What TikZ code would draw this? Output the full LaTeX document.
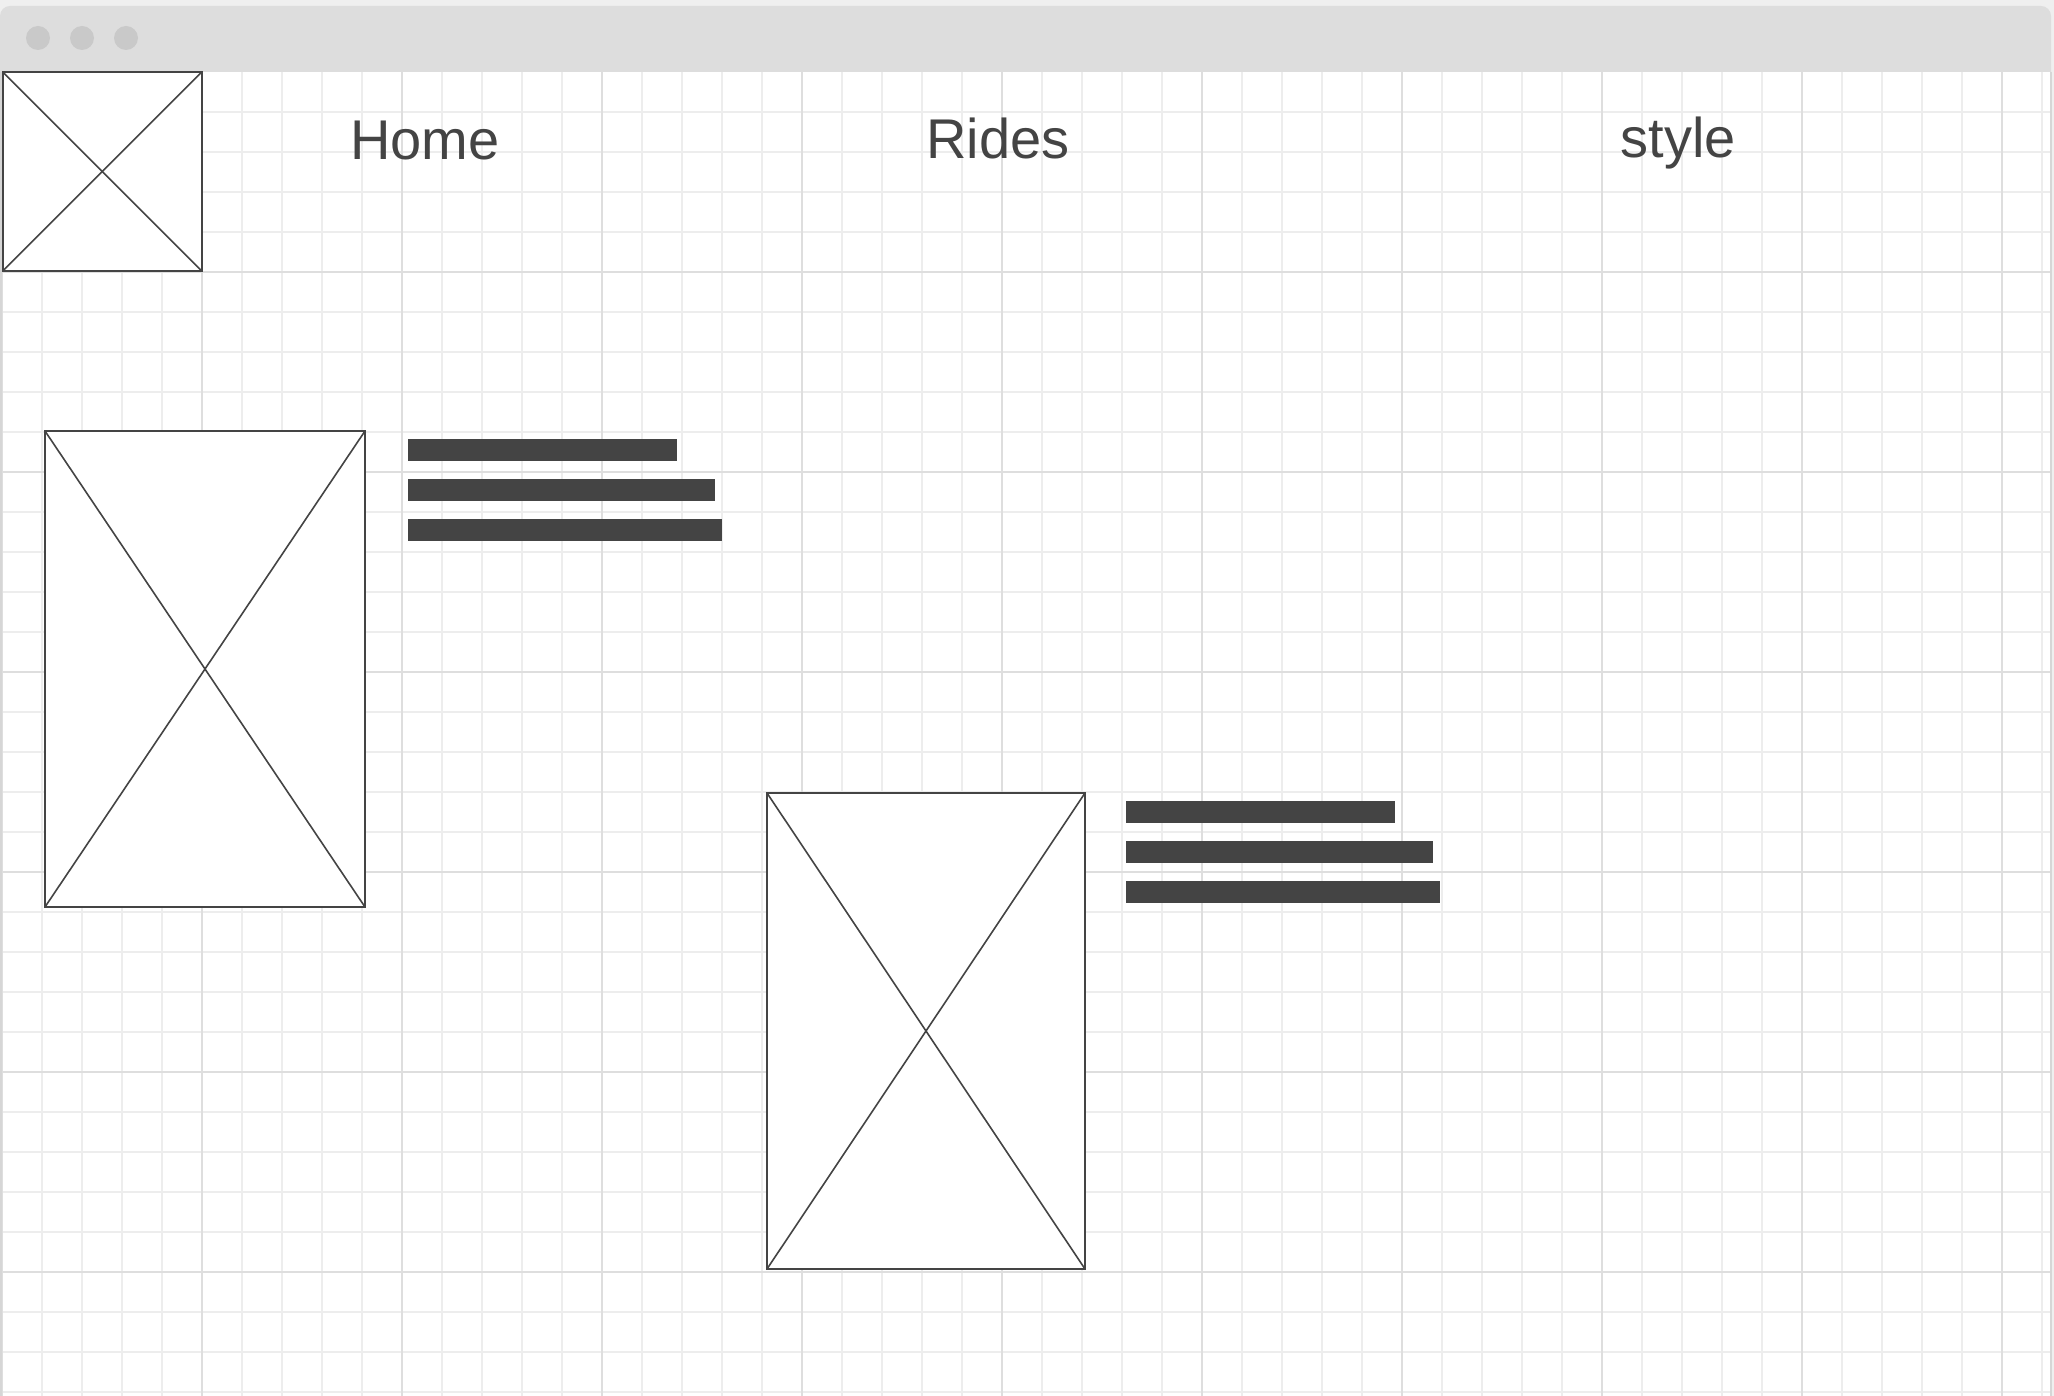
\documentclass[tikz,border=0pt]{standalone}
\usepackage{fontspec}
\setmainfont{Liberation Sans}
\definecolor{outerbg}{HTML}{EFEFEF}
\definecolor{barbg}{HTML}{DDDDDD}
\definecolor{dotc}{HTML}{C9C9C9}
\definecolor{gridminor}{HTML}{EDEDED}
\definecolor{gridmajor}{HTML}{DEDEDE}
\definecolor{edgec}{HTML}{D6D6D6}
\definecolor{ink}{HTML}{444444}
\tikzset{
  minorline/.style={draw=gridminor, line width=1.3pt},
  majorline/.style={draw=gridmajor, line width=1.4pt},
  imgbox/.style={draw=ink, fill=white, line width=2pt, inner sep=0pt, outer sep=0pt, rectangle},
  crossline/.style={draw=ink, line width=1.6pt},
  textbar/.style={fill=ink, inner sep=0pt, outer sep=0pt, minimum height=22pt, anchor=north west, rectangle},
  navtext/.style={text=ink, font=\fontsize{56}{64}\selectfont, anchor=base, inner sep=0pt},
  winbtn/.style={fill=dotc, circle, inner sep=0pt, minimum size=24pt}
}
\begin{document}
\begin{tikzpicture}[x=1pt,y=-1pt]
\useasboundingbox (0,0) rectangle (2054,1396);
% outer background and window
\fill[outerbg] (0,0) rectangle (2054,1396);
\fill[white] (0,72) rectangle (2051,1396);
% grid
\foreach \x in {2,42,...,2042} \draw[minorline] (\x,72) -- (\x,1396);
\foreach \y in {112,152,...,1392} \draw[minorline] (1,\y) -- (2051,\y);
\foreach \x in {2,202,...,2002} \draw[majorline] (\x,72) -- (\x,1396);
\foreach \y in {272,472,...,1272} \draw[majorline] (1,\y) -- (2051,\y);
% window edges
\draw[edgec, line width=1.5pt] (0.75,72) -- (0.75,1396);
\draw[edgec, line width=1.5pt] (2051,72) -- (2051,1396);
% title bar
\fill[barbg] (0,72) [rounded corners=10pt] -- (0,6) -- (2051,6) [sharp corners] -- (2051,72) -- cycle;
\node[winbtn] (b1) at (38,38) {};
\node[winbtn] (b2) at (82,38) {};
\node[winbtn] (b3) at (126,38) {};
% logo placeholder
\node[imgbox, minimum width=199pt, minimum height=199pt] (logo) at (102.2,171.5) {};
\draw[crossline] (logo.north west) -- (logo.south east);
\draw[crossline] (logo.south west) -- (logo.north east);
% nav texts
\node[navtext] (home) at (425,160) {Home};
\node[navtext] (rides) at (998,159) {Rides};
\node[navtext] (styletxt) at (1678,158) {style};
% image 1
\node[imgbox, minimum width=320pt, minimum height=476pt] (img1) at (205,669) {};
\draw[crossline] (img1.north west) -- (img1.south east);
\draw[crossline] (img1.south west) -- (img1.north east);
\node[textbar, minimum width=269pt] (t1a) at (408,439) {};
\node[textbar, minimum width=307pt] (t1b) at (408,479) {};
\node[textbar, minimum width=314pt] (t1c) at (408,519) {};
% image 2
\node[imgbox, minimum width=318pt, minimum height=476pt] (img2) at (926,1031) {};
\draw[crossline] (img2.north west) -- (img2.south east);
\draw[crossline] (img2.south west) -- (img2.north east);
\node[textbar, minimum width=269pt] (t2a) at (1126,801) {};
\node[textbar, minimum width=307pt] (t2b) at (1126,841) {};
\node[textbar, minimum width=314pt] (t2c) at (1126,881) {};
\end{tikzpicture}
\end{document}
